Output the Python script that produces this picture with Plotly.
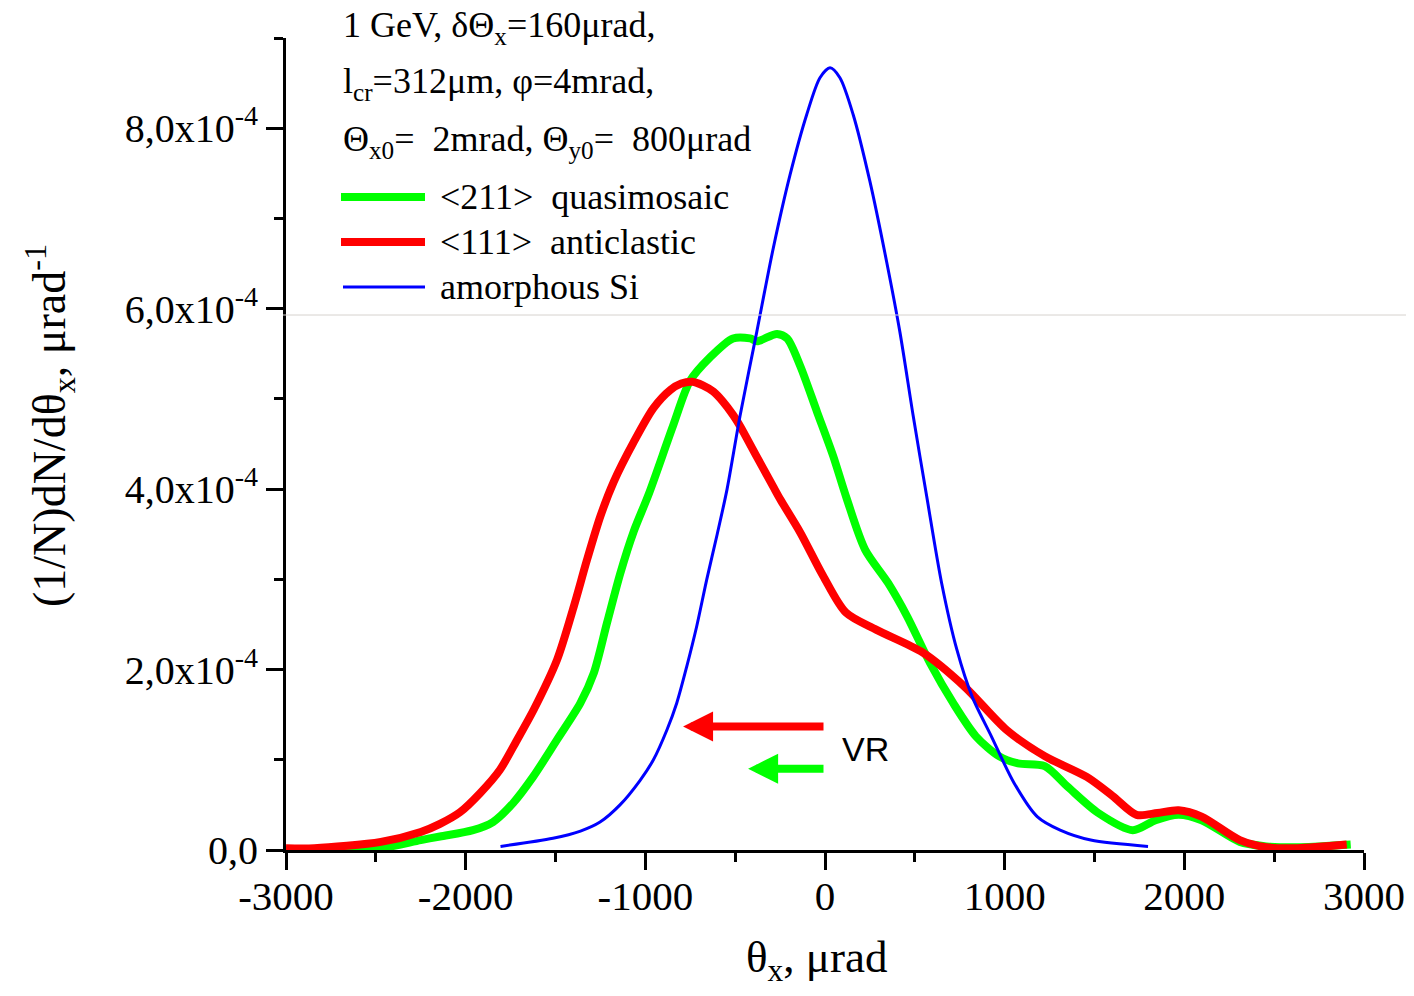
import plotly.graph_objects as go

# ---------------- data (y in units of 1e-4) ----------------
SCALE = 1e-4

green_x = [-3000, -2700, -2472, -2250, -2143, -1959, -1848, -1736, -1625, -1492, -1361, -1287,
           -1213, -1139, -1065, -980, -846, -751, -640, -512, -417, -378, -267, -211, -139,
           -45, 45, 120, 223, 351, 457, 585, 713, 840, 968, 1074, 1223, 1351, 1521, 1713,
           1840, 1968, 2096, 2309, 2457, 2650, 2926]
green_y = [0.0, 0.0, 0.02, 0.11, 0.15, 0.22, 0.31, 0.52, 0.81, 1.22, 1.63, 1.96,
           2.52, 3.07, 3.53, 3.95, 4.70, 5.2, 5.46, 5.67, 5.67, 5.64, 5.72, 5.67, 5.37,
           4.86, 4.37, 3.9, 3.33, 2.96, 2.59, 2.07, 1.63, 1.26, 1.04, 0.96, 0.93, 0.70, 0.41, 0.22,
           0.33, 0.39, 0.33, 0.09, 0.04, 0.03, 0.06]

red_x = [-3000, -2843, -2472, -2250, -2143, -2031, -1920, -1809, -1714, -1620, -1491, -1398,
         -1324, -1250, -1176, -1065, -954, -860, -800, -739, -680, -621, -568, -511, -473,
         -380, -289, -250, -138, -11, 117, 287, 543, 777, 1011, 1223, 1457, 1600, 1734, 1850,
         1968, 2096, 2309, 2457, 2628, 2904]
red_y = [0.02, 0.02, 0.09, 0.2, 0.29, 0.42, 0.63, 0.89, 1.22, 1.56, 2.11, 2.70,
         3.22, 3.70, 4.08, 4.52, 4.90, 5.10, 5.17, 5.19, 5.15, 5.08, 4.97, 4.82, 4.70,
         4.36, 4.03, 3.89, 3.52, 3.04, 2.63, 2.44, 2.19, 1.81, 1.33, 1.04, 0.81, 0.6, 0.39, 0.41,
         0.44, 0.37, 0.11, 0.03, 0.02, 0.06]

blue_x = [-1806, -1514, -1361, -1252, -1141, -1030, -955, -880, -825, -770, -714, -658, -600,
          -545, -473, -380, -288, -195, -102, -28, 28, 83, 157, 250, 343, 417, 491, 566, 649,
          734, 819, 926, 1053, 1181, 1309, 1479, 1798]
blue_y = [0.04, 0.13, 0.21, 0.31, 0.50, 0.77, 1.0, 1.33, 1.63, 2.03, 2.48, 3.0, 3.5,
          4.0, 4.81, 5.74, 6.67, 7.48, 8.15, 8.56, 8.67, 8.56, 8.15, 7.41, 6.52, 5.74, 4.81,
          3.92, 2.96, 2.22, 1.70, 1.26, 0.74, 0.37, 0.22, 0.11, 0.04]

x_tickvals = [-3000, -2000, -1000, 0, 1000, 2000, 3000]
x_ticktext = ["-3000", "-2000", "-1000", "0", "1000", "2000", "3000"]
x_minor = [-2500, -1500, -500, 500, 1500, 2500]
y_tickvals = [0, 2, 4, 6, 8]
y_ticktext = ["0,0", "2,0x10<sup>-4</sup>", "4,0x10<sup>-4</sup>",
              "6,0x10<sup>-4</sup>", "8,0x10<sup>-4</sup>"]
y_minor = [1, 3, 5, 7, 9]

# VR arrows: (tail x, head x, y)
arrow_red = (0, -790, 1.37)
arrow_green = (0, -428, 0.90)

names = ["<211>  quasimosaic", "<111>  anticlastic", "amorphous Si"]
colors = ["#00FF00", "#FF0000", "#0000FF"]
widths = [8, 8, 3]

# ---------------- figure ----------------
OFF = 8                      # page body margin
W, H = 1414 - 2 * OFF, 996 - 2 * OFF
X0, X1, Y0, Y1 = 286, 1364, 850, 38   # plot area on screen
L, T = X0 - OFF, Y1 - OFF
R, B = (OFF + W) - X1, (OFF + H) - Y0

def px(xp):
    return (xp - X0) / (X1 - X0)

def py(yp):
    return (Y0 - yp) / (Y0 - Y1)

serif = "Liberation Serif"
fig = go.Figure()
for xs, ys, c, w, n in [(green_x, green_y, colors[0], widths[0], names[0]),
                        (red_x, red_y, colors[1], widths[1], names[1]),
                        (blue_x, blue_y, colors[2], widths[2], names[2])]:
    fig.add_trace(go.Scatter(x=xs, y=[v * SCALE for v in ys], mode="lines", name=n,
                             line=dict(color=c, width=w, shape="spline", smoothing=0.8),
                             showlegend=False))

axis_common = dict(showline=True, linewidth=3, linecolor="black", showgrid=False,
                   zeroline=False, ticks="outside", ticklen=17, tickwidth=3, tickcolor="black",
                   mirror=False, automargin=False)
fig.update_xaxes(range=[-3000, 3000], tickmode="array", tickvals=x_tickvals, ticktext=x_ticktext,
                 tickfont=dict(family=serif, size=41, color="black"), ticklabelstandoff=-9,
                 ticklabeloverflow="allow",
                 minor=dict(tickvals=x_minor, ticks="outside", ticklen=9, tickwidth=3, tickcolor="black"),
                 **axis_common)
fig.update_yaxes(range=[0, 9 * SCALE], tickmode="array", tickvals=[v * SCALE for v in y_tickvals],
                 ticktext=y_ticktext, tickfont=dict(family=serif, size=40, color="black"),
                 minor=dict(tickvals=[v * SCALE for v in y_minor], ticks="outside", ticklen=9,
                            tickwidth=3, tickcolor="black"),
                 **axis_common)

ann = []
# axis titles
ann.append(dict(text="θ<sub>x</sub>, μrad", x=px(816), y=py(960), xref="paper", yref="paper",
                showarrow=False, font=dict(family=serif, size=45, color="black"),
                xanchor="center", yanchor="middle"))
ann.append(dict(text="(1/N)dN/dθ<sub>x</sub>, μrad<sup>-1</sup>", x=px(50), y=py(425),
                xref="paper", yref="paper", showarrow=False, textangle=-90,
                font=dict(family=serif, size=46, color="black"), xanchor="center", yanchor="middle"))
# header text
hdr = ["1 GeV, δΘ<sub>x</sub>=160μrad,",
       "l<sub>cr</sub>=312μm, φ=4mrad,",
       "Θ<sub>x0</sub>=\u00a0 2mrad, Θ<sub>y0</sub>=\u00a0 800μrad"]
for t, yc in zip(hdr, [28, 84, 141]):
    ann.append(dict(text=t, x=px(341), y=py(yc), xref="paper", yref="paper", showarrow=False,
                    font=dict(family=serif, size=36, color="black"), xanchor="left", yanchor="middle"))
# legend
shapes = []
for n, c, w, yc, x0 in zip(names, colors, widths, [197, 242, 287], [341, 341, 343]):
    shapes.append(dict(type="line", xref="paper", yref="paper", x0=px(x0), x1=px(425),
                       y0=py(yc), y1=py(yc), line=dict(color=c, width=w)))
    ann.append(dict(text=n.replace("<", "&lt;").replace(">", "&gt;").replace("  ", "\u00a0 "),
                    x=px(438), y=py(yc), xref="paper", yref="paper", showarrow=False,
                    font=dict(family=serif, size=36, color="black"), xanchor="left", yanchor="middle"))
# faint grey line
shapes.append(dict(type="line", xref="paper", yref="paper", x0=px(283), x1=px(1406),
                   y0=py(315), y1=py(315), line=dict(color="#d6d2ce", width=1)))

# VR arrows
for (tx, hx, yv), c in [(arrow_red, colors[1]), (arrow_green, colors[0])]:
    ann.append(dict(x=hx, y=yv * SCALE, ax=tx, ay=yv * SCALE, xref="x", yref="y", axref="x",
                    ayref="y", text="", showarrow=True, arrowhead=2, arrowsize=0.75,
                    arrowwidth=8, arrowcolor=c))
ann.append(dict(text="VR", x=228, y=1.12 * SCALE, xref="x", yref="y", showarrow=False,
                font=dict(family="Liberation Sans", size=34, color="black"),
                xanchor="center", yanchor="middle"))

fig.update_layout(width=W, height=H, autosize=False,
                  margin=dict(l=L, r=R, t=T, b=B, pad=0, autoexpand=False),
                  plot_bgcolor="white", paper_bgcolor="white",
                  annotations=ann, shapes=shapes, showlegend=False)

fig.write_html("out.html")
